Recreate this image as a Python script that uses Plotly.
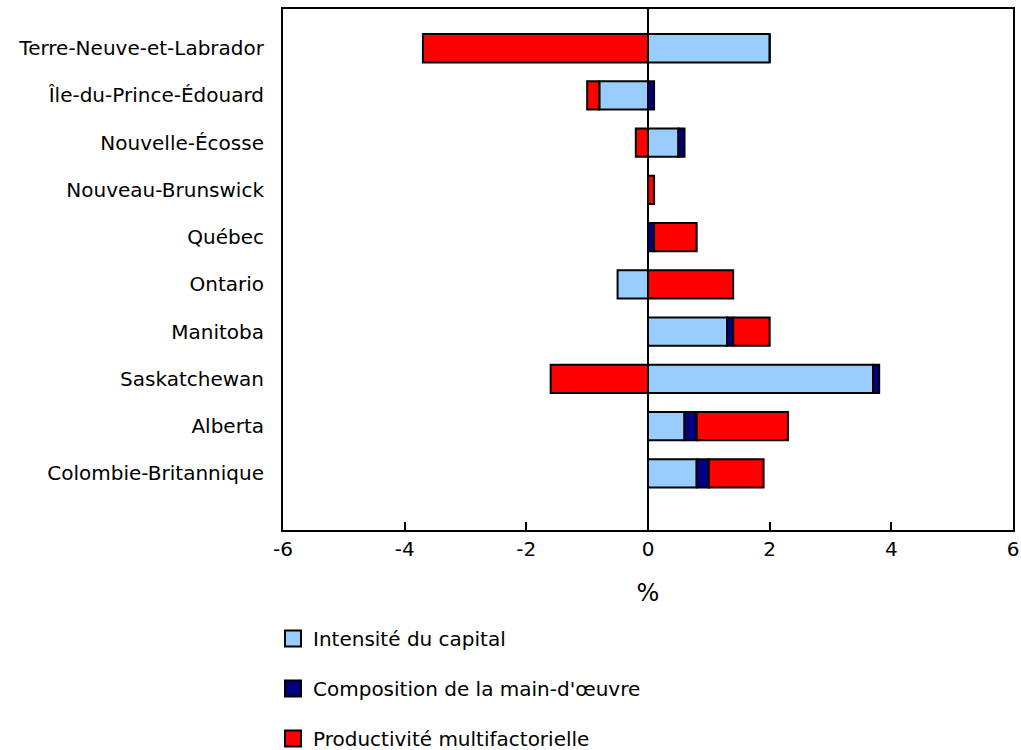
import plotly.graph_objects as go

provinces = ["Terre-Neuve-et-Labrador", "Île-du-Prince-Édouard", "Nouvelle-Écosse",
             "Nouveau-Brunswick", "Québec", "Ontario", "Manitoba", "Saskatchewan",
             "Alberta", "Colombie-Britannique"]
capital = [2.0, -0.8, 0.5, 0.0, 0.0, -0.5, 1.3, 3.7, 0.6, 0.8]
main_oeuvre = [0.0, 0.1, 0.1, 0.0, 0.1, 0.0, 0.1, 0.1, 0.2, 0.2]
pmf = [-3.7, -0.2, -0.2, 0.1, 0.7, 1.4, 0.6, -1.6, 1.5, 0.9]
x_ticks = [-6, -4, -2, 0, 2, 4, 6]
x_tick_labels = ["-6", "-4", "-2", "0", "2", "4", "6"]

series = [
    ("Intensité du capital", capital, "#99CCFF"),
    ("Composition de la main-d'œuvre", main_oeuvre, "#000080"),
    ("Productivité multifactorielle", pmf, "#FF0000"),
]

font = "DejaVu Sans, Verdana, sans-serif"
fig = go.Figure()
for i, (name, vals, col) in enumerate(series):
    fig.add_trace(go.Bar(
        y=provinces, x=vals, name=name, orientation="h",
        marker=dict(color=col, line=dict(color="black", width=2)),
        width=0.6, showlegend=False,
    ))
for i, (name, vals, col) in enumerate(series):
    fig.add_trace(go.Scatter(
        x=[None], y=[None], mode="markers", name=name, legendgroup=str(i),
        marker=dict(symbol="square", size=16, color=col,
                    line=dict(color="black", width=2)),
    ))

fig.update_layout(
    width=1021, height=750,
    margin=dict(l=283, r=8, t=9, b=220),
    barmode="relative",
    plot_bgcolor="white", paper_bgcolor="white",
    font=dict(family=font, size=20, color="black"),
    showlegend=True,
    legend=dict(x=-0.0137, xanchor="left", yref="container", y=0.1747, yanchor="top",
                orientation="v", traceorder="grouped", tracegroupgap=21,
                font=dict(size=20), itemsizing="trace"),
    xaxis=dict(range=[-6, 6], tickvals=x_ticks, ticktext=x_tick_labels,
               ticks="inside", ticklen=8, tickcolor="black", tickwidth=2,
               showgrid=False, zeroline=True, zerolinecolor="black", zerolinewidth=2,
               showline=True, linecolor="black", linewidth=2, mirror=True,
               automargin=False,
               title=dict(text="%", standoff=24)),
    yaxis=dict(type="category", categoryorder="array", categoryarray=provinces,
               range=[10.2, -0.83], showgrid=False, ticks="",
               showline=True, linecolor="black", linewidth=2, mirror=True,
               automargin=False, ticklabelstandoff=13),
)

fig.write_html("out.html", config={"displayModeBar": False},
               post_script="document.body.style.margin='0';")
